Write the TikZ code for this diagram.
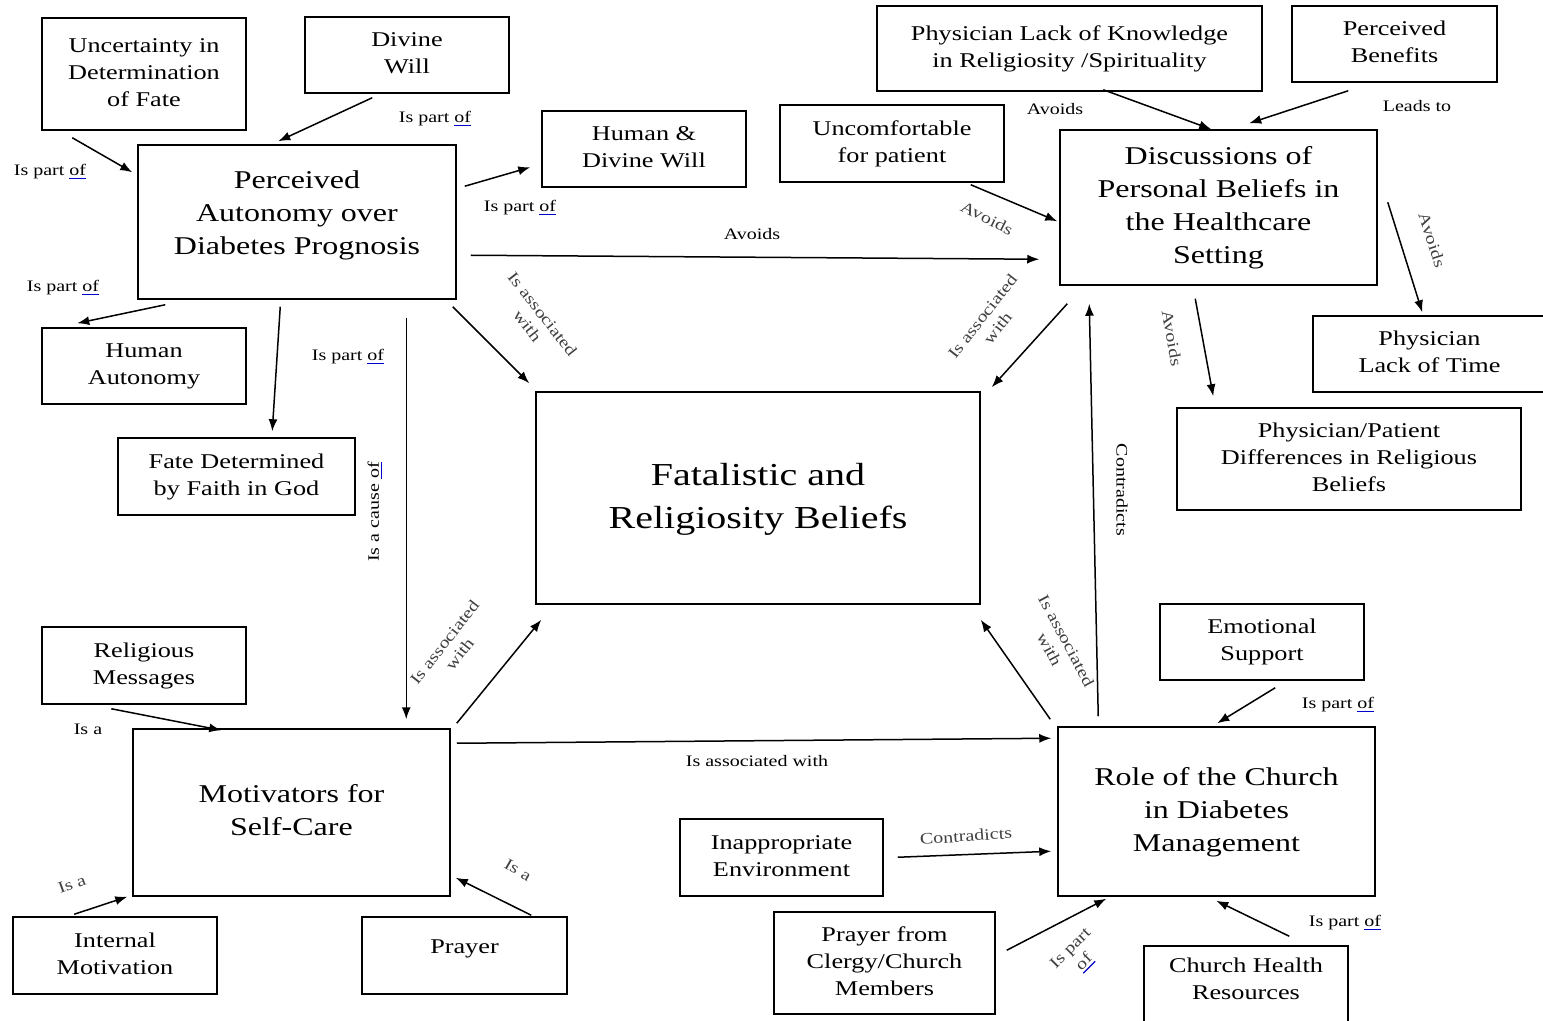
\documentclass[tikz,border=0pt]{standalone}
\usepackage{fontspec}
\setmainfont{Liberation Serif}[FakeStretch=1.25]
\usetikzlibrary{arrows.meta,calc}

\newcommand{\tb}[2][0pt]{\raisebox{0pt}[\height][\dimexpr\depth+#1\relax]{\begin{tabular}{@{}c@{}}#2\end{tabular}}}
\newsavebox\ofbox
\newcommand{\sqof}{\sbox\ofbox{of}\rlap{\color{blue!80!black}\rule[-1.8pt]{\wd\ofbox}{0.6pt}}\usebox\ofbox}

\tikzset{
  box/.style={draw, line width=0.75pt, inner sep=0pt, font=\fontsize{10.5}{13.5}\selectfont},
  bigbox/.style={box, font=\fontsize{12.8}{16.5}\selectfont},
  hugebox/.style={box, font=\fontsize{16}{21.5}\selectfont},
  sz/.style 2 args={minimum width=#1*0.5pt, minimum height=#2*0.5pt},
  arr/.style={-{Latex[length=6pt,width=4.5pt]}, line width=0.75pt},
  lbl/.style={font=\fontsize{8}{9.5}\selectfont, inner sep=0pt, align=center},
  rlbl/.style={lbl, text=black!75},
}

\begin{document}
\begin{tikzpicture}[x=0.5pt, y=-0.5pt]
\fill[white] (0,0) rectangle (1543,1021);
\useasboundingbox (0,0) rectangle (1543,1021);

% boxes
\node[box, sz={204}{112}] (unc) at (144,74) {\tb{Uncertainty in\\Determination\\of Fate}};
\node[box, sz={204}{76}] (div) at (407,55) {\tb{Divine\\Will}};
\node[bigbox, sz={318}{154}] (perc) at (297,222) {\tb[7pt]{Perceived\\Autonomy over\\Diabetes Prognosis}};
\node[box, sz={204}{76}] (hdw) at (644,149) {\tb{Human \&\\Divine Will}};
\node[box, sz={224}{77}] (unco) at (892,143.5) {\tb{Uncomfortable\\for patient}};
\node[box, sz={385}{85}] (plk) at (1069.5,48.5) {\tb{Physician Lack of Knowledge\\in Religiosity /Spirituality}};
\node[box, sz={205}{76}] (pben) at (1394.5,44) {\tb{Perceived\\Benefits}};
\node[bigbox, sz={317}{155}] (disc) at (1218.5,207.5) {\tb{Discussions of\\Personal Beliefs in\\the Healthcare\\Setting}};
\node[box, sz={233}{76}] (plt) at (1429.5,354) {\tb{Physician\\Lack of Time}};
\node[box, sz={344}{102}] (ppd) at (1349,459) {\tb{Physician/Patient\\Differences in Religious\\Beliefs}};
\node[box, sz={204}{76}] (hum) at (144,366) {\tb{Human\\Autonomy}};
\node[box, sz={237}{77}] (fate) at (236.5,476.5) {\tb{Fate Determined\\by Faith in God}};
\node[hugebox, sz={444}{212}] (fat) at (758,498) {\tb{Fatalistic and\\Religiosity Beliefs}};
\node[box, sz={204}{77}] (rel) at (144,665.5) {\tb{Religious\\Messages}};
\node[bigbox, sz={317}{167}] (mot) at (291.5,812.5) {\tb{Motivators for\\Self-Care}};
\node[box, sz={204}{77}] (intm) at (115,955.5) {\tb{Internal\\Motivation}};
\node[box, sz={205}{77}] (pray) at (464.5,955.5) {\tb[7.5pt]{Prayer}};
\node[box, sz={204}{76}] (emo) at (1262,642) {\tb{Emotional\\Support}};
\node[bigbox, sz={317}{169}] (role) at (1216.5,811.5) {\tb{Role of the Church\\in Diabetes\\Management}};
\node[box, sz={203}{77}] (inap) at (781.5,857.5) {\tb{Inappropriate\\Environment}};
\node[box, sz={221}{102}] (pcl) at (884.5,963) {\tb{Prayer from\\Clergy/Church\\Members}};
\node[box, sz={204}{78}] (chr) at (1246,985) {\tb[4pt]{Church Health\\Resources}};

% connectors
\draw[arr] ($(unc.south west)+(31,7)$) -- ($(perc.north west)+(-5,28)$);
\draw[arr] ($(div.south west)+(68,4)$) -- ($(perc.north west)+(141,-3)$);
\draw[arr] ($(perc.north east)+(8,42)$) -- ($(hdw.north west)+(-11,57)$);
\draw[arr] ($(perc.south west)+(28,5)$) -- ($(hum.north west)+(36,-4)$);
\draw[arr] ($(perc.south west)+(143,7)$) -- ($(fate.north west)+(155,-6)$);
\draw[arr] ($(perc.south west)+(269,18)$) -- ($(mot.north west)+(274,-9)$);
\draw[arr] ($(perc.south east)+(-4,7)$) -- ($(fat.north west)+(-6,-8)$);
\draw[arr] ($(perc.north east)+(14,111)$) -- ($(disc.north west)+(-20,130)$);
\draw[arr] ($(unco.south east)+(-34,2)$) -- ($(disc.north west)+(-2,92)$);
\draw[arr] ($(plk.south west)+(227,-2)$) -- ($(disc.north west)+(152,0)$);
\draw[arr] ($(pben.south west)+(57,8)$) -- ($(disc.north west)+(190,-6)$);
\draw[arr] ($(disc.north east)+(10,73)$) -- ($(plt.north west)+(110,-3)$);
\draw[arr] ($(disc.south west)+(136,13)$) -- ($(ppd.north west)+(37,-11)$);
\draw[arr] ($(disc.south west)+(8,18)$) -- ($(fat.north east)+(11,-4)$);
\draw[arr] ($(role.north west)+(41,-10)$) -- ($(disc.south west)+(30,18)$);
\draw[arr] ($(role.north west)+(-7,-7)$) -- ($(fat.south east)+(0,15)$);
\draw[arr] ($(mot.north east)+(6,15)$) -- ($(role.north west)+(-6,12)$);
\draw[arr] ($(mot.north east)+(6,-5)$) -- ($(fat.south west)+(6,15)$);
\draw[arr] ($(rel.south west)+(70,4)$) -- ($(mot.north west)+(89,2)$);
\draw[arr] ($(intm.north west)+(62,-2)$) -- ($(mot.south west)+(-5,0)$);
\draw[arr] ($(pray.north west)+(170,-1)$) -- ($(mot.south east)+(5,-19)$);
\draw[arr] ($(emo.south west)+(116,7)$) -- ($(role.north west)+(160,-3)$);
\draw[arr] ($(inap.north east)+(14,39)$) -- ($(role.north west)+(-6,125)$);
\draw[arr] ($(pcl.north east)+(11,39)$) -- ($(role.south west)+(49,2)$);
\draw[arr] ($(chr.north west)+(146,-9)$) -- ($(role.south west)+(159,4)$);

% labels
\node[lbl] (l1) at (50,172) {Is part \sqof};
\node[lbl] (l2) at (435,119) {Is part \sqof};
\node[lbl] (l3) at (520,208) {Is part \sqof};
\node[lbl] (l4) at (63,288) {Is part \sqof};
\node[lbl] (l5) at (348,357) {Is part \sqof};
\node[lbl, rotate=90] (l6) at (375,512) {Is a cause \sqof};
\node[rlbl, rotate=-52] (l7) at (535,320) {Is associated\\with};
\node[lbl] (l8) at (752,234) {Avoids};
\node[rlbl, rotate=-27] (l9) at (987,218) {Avoids};
\node[lbl] (l10) at (1055,109) {Avoids};
\node[lbl] (l11) at (1417,106) {Leads to};
\node[rlbl, rotate=-72] (l12) at (1432,240) {Avoids};
\node[rlbl, rotate=-80] (l13) at (1172,338) {Avoids};
\node[rlbl, rotate=52] (l14) at (990,322) {Is associated\\with};
\node[lbl, rotate=-90] (l15) at (1122,490) {Contradicts};
\node[rlbl, rotate=-62] (l16) at (1058,645) {Is associated\\with};
\node[lbl] (l17) at (757,761) {Is associated with};
\node[rlbl, rotate=52] (l18) at (452,648) {Is associated\\with};
\node[lbl] (l19) at (88,729) {Is a};
\node[rlbl, rotate=20] (l20) at (72,884) {Is a};
\node[rlbl, rotate=-30] (l21) at (518,870) {Is a};
\node[lbl] (l22) at (1338,705) {Is part \sqof};
\node[rlbl, rotate=4] (l23) at (966,836) {Contradicts};
\node[rlbl, rotate=45] (l24) at (1078,956) {Is part\\\sqof};
\node[lbl] (l25) at (1345,923) {Is part \sqof};
\end{tikzpicture}
\end{document}
